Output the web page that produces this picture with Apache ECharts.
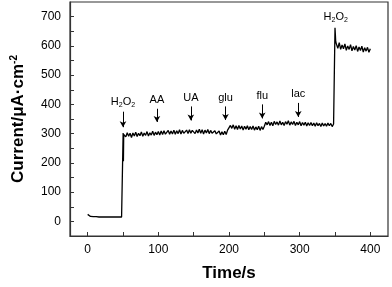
<!DOCTYPE html>
<html>
<head>
<meta charset="utf-8">
<script src="https://cdn.jsdelivr.net/npm/echarts@6/dist/echarts.min.js"></script>
<style>
html,body{margin:0;padding:0;background:#fff;}
#main{width:392px;height:287px;}
</style>
</head>
<body>
<div id="main"></div>
<script>
// current readings, sampled every 2 s
var baseline = [24, 19, 17, 16, 16, 16, 16, 16, 15, 15, 15, 15, 15, 15, 15, 15, 15, 15, 15, 15, 15, 15, 15, 15, 15, 15]; // t = 0..50
var jump1Time = [50.2, 50.6, 51];
var jump1Current = [302, 206, 297];
var plateau = [ // t = 52..348
    300, 289, 303, 291, 301, 287, 302, 292, 305, 290, 301, 293, 306, 291, 302, 294, 307, 292, 303, 295, 308, 294, 305, 296,
    307, 295, 309, 297, 310, 298, 296, 311, 298, 309, 299, 312, 298, 310, 300, 313, 299, 311, 301, 298, 312, 300, 313, 301, 311,
    314, 300, 312, 302, 315, 301, 313, 299, 312, 302, 314, 300, 311, 301, 298, 310, 299, 297, 309, 295, 306, 296, 308, 297, 312,
    314, 328, 318,
    330, 315, 327, 314, 328, 316, 326, 312, 325, 315, 327, 313, 324, 314, 326, 312, 323, 313, 325, 311, 324, 314,
    325, 339,
    330, 341, 328, 339, 327, 342, 331, 340, 329, 343, 330, 339, 328, 341, 332, 344,
    329, 340, 331, 342, 328, 339, 330, 341, 327, 338, 329, 339, 326, 337, 328, 338,
    327, 336, 325, 337, 327, 335, 324, 336, 326, 334, 325, 336, 327, 335, 324, 333
];
var jump2Time = [349.6, 350, 350.5, 351];
var jump2Current = [330, 662, 640, 615];
var final = [ // t = 352..400
    606, 592, 611, 588, 603, 590, 607, 585, 600, 588, 604, 583, 598, 586, 601, 581, 596, 584, 599, 579, 594, 582, 595, 578, 590
];

// injections: name, time, arrow top, arrow tip
var injNames = ['H2O2', 'AA', 'UA', 'glu', 'flu', 'lac'];
var injTime = [50, 98, 146, 195, 247, 298];
var injTop = [375, 385, 393, 393, 400, 405];
var injTip = [322, 340, 345, 347, 352, 357];

var xLabels = [0, 100, 200, 300, 400];
var xTicks = [0, 50, 100, 150, 200, 250, 300, 350, 400];
var yLabels = [0, 100, 200, 300, 400, 500, 600, 700];
var yTicks = [0, 50, 100, 150, 200, 250, 300, 350, 400, 450, 500, 550, 600, 650, 700];

var points = [];
baseline.forEach(function (v, i) { points.push([i * 2, v]); });
jump1Time.forEach(function (t, i) { points.push([t, jump1Current[i]]); });
plateau.forEach(function (v, i) { points.push([52 + i * 2, v]); });
jump2Time.forEach(function (t, i) { points.push([t, jump2Current[i]]); });
final.forEach(function (v, i) { points.push([352 + i * 2, v]); });

function nameText(n) {
    return n === 'H2O2' ? 'H{sub|2}O{sub|2}' : n;
}
var richSub = {sub: {fontSize: 7, verticalAlign: 'bottom', padding: [6, 0, 0, 0], color: '#000'}};

var arrows = injNames.map(function (n, i) {
    return [
        {coord: [injTime[i], injTop[i]], label: {formatter: nameText(n)}},
        {coord: [injTime[i], injTip[i]]}
    ];
});

var chart = echarts.init(document.getElementById('main'));
chart.setOption({
    animation: false,
    grid: {left: 70, right: 4, top: 2, bottom: 47, show: true, borderColor: '#333', borderWidth: 1.2},
    xAxis: {
        type: 'value', min: -25, max: 425,
        name: 'Time/s', nameLocation: 'middle', nameGap: 29,
        nameTextStyle: {fontFamily: 'Liberation Sans', fontWeight: 'bold', fontSize: 17, color: '#000'},
        axisLine: {onZero: false, lineStyle: {color: '#333', width: 1.2}},
        axisTick: {show: true, inside: true, length: 4, customValues: xTicks, lineStyle: {color: '#333', width: 1}},
        axisLabel: {customValues: xLabels, margin: 8, fontFamily: 'Liberation Sans', fontSize: 12, color: '#000'},
        splitLine: {show: false}
    },
    yAxis: {
        type: 'value', min: -50, max: 750,
        name: 'Current/μA·cm{sup|-2}', nameLocation: 'middle', nameGap: 42,
        nameTextStyle: {
            fontFamily: 'Liberation Sans', fontWeight: 'bold', fontSize: 17, color: '#000',
            rich: {sup: {fontSize: 10, fontWeight: 'bold', verticalAlign: 'top', padding: [0, 0, 9, 0], color: '#000'}}
        },
        axisLine: {show: true, onZero: false, lineStyle: {color: '#333', width: 1.2}},
        axisTick: {show: true, inside: true, length: 4, customValues: yTicks, lineStyle: {color: '#333', width: 1}},
        axisLabel: {customValues: yLabels, margin: 9, fontFamily: 'Liberation Sans', fontSize: 12, color: '#000'},
        splitLine: {show: false}
    },
    series: [{
        type: 'line',
        data: points,
        showSymbol: false,
        lineStyle: {color: '#000', width: 1.3},
        markLine: {
            silent: true,
            symbol: ['none', 'arrow'],
            symbolSize: [5, 6],
            lineStyle: {color: '#000', width: 1, type: 'solid'},
            label: {
                position: 'start', distance: 3,
                fontFamily: 'Liberation Sans', fontSize: 11, color: '#000',
                rich: richSub
            },
            data: arrows
        },
        markPoint: {
            silent: true,
            symbol: 'circle', symbolSize: 0,
            label: {
                show: true, position: 'inside', formatter: nameText('H2O2'),
                fontFamily: 'Liberation Sans', fontSize: 11, color: '#000', rich: richSub
            },
            data: [{coord: [351, 698]}]
        }
    }]
});
</script>
</body>
</html>
